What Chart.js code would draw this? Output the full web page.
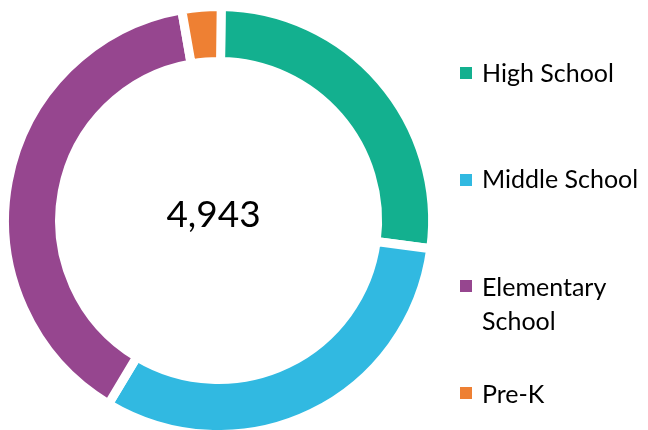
<!DOCTYPE html>
<html>
<head>
<meta charset="utf-8">
<script src="https://cdn.jsdelivr.net/npm/chart.js@4"></script>
<style>
  html, body { margin: 0; padding: 0; background: #ffffff; }
  #wrap { width: 648px; height: 430px; position: relative; }
</style>
</head>
<body>
<div id="wrap"><canvas id="c" width="648" height="430"></canvas></div>
<script>
const categories = ['High School', 'Middle School', 'Elementary School', 'Pre-K'];
const legendLines = [['High School'], ['Middle School'], ['Elementary', 'School'], ['Pre-K']];
const enrollment = [1330, 1557, 1910, 146];
const totalLabel = '4,943';
const colors = ['#13B08F', '#31B9E1', '#96468F', '#EE8033'];

const FONT = 'Lato, "Open Sans", sans-serif';

const overlay = {
  id: 'overlay',
  afterDraw(chart) {
    const ctx = chart.ctx;
    ctx.save();
    // centre total
    ctx.fillStyle = '#000000';
    ctx.font = '37px ' + FONT;
    ctx.textAlign = 'center';
    ctx.textBaseline = 'alphabetic';
    ctx.fillText(totalLabel, 213.5, 227);
    // legend
    const markerCenters = [73, 180, 286, 393];
    const baselines = [82, 188, 296, 403];
    ctx.textAlign = 'left';
    ctx.font = '25px ' + FONT;
    chart.data.labels.forEach((lab, i) => {
      ctx.fillStyle = chart.data.datasets[0].backgroundColor[i];
      ctx.fillRect(460, markerCenters[i] - 6, 12, 12);
      ctx.fillStyle = '#000000';
      legendLines[i].forEach((line, j) => {
        ctx.fillText(line, 482, baselines[i] + j * 34);
      });
    });
    ctx.restore();
  }
};

new Chart(document.getElementById('c'), {
  type: 'doughnut',
  data: {
    labels: categories,
    datasets: [{
      data: enrollment,
      backgroundColor: colors,
      borderColor: '#ffffff',
      borderWidth: 9,
      borderAlign: 'center',
      hoverOffset: 0,
      clip: false
    }]
  },
  options: {
    responsive: false,
    animation: false,
    devicePixelRatio: 1,
    rotation: 0.7,
    radius: 214,
    cutout: '74.3%',
    layout: { padding: { left: 0, right: 210.8, top: 11, bottom: 0 } },
    plugins: {
      legend: { display: false },
      tooltip: { enabled: false }
    }
  },
  plugins: [overlay]
});
</script>
</body>
</html>
